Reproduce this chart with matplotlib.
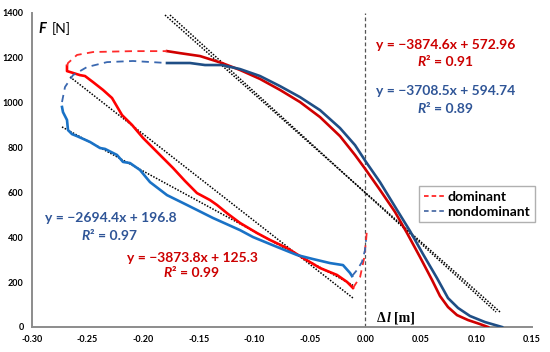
from matplotlib import pyplot as plt
from matplotlib.lines import Line2D

# dominant leg, eccentric (lower) branch
dom_ecc_x = [-0.2685, -0.2685, -0.2658, -0.2568, -0.2523, -0.2451, -0.2361, -0.228, -0.219, -0.21,
             -0.2001, -0.1848, -0.1731, -0.1623, -0.1515, -0.1398, -0.1335, -0.1236, -0.1128, -0.0975,
             -0.0858, -0.0705, -0.0561, -0.0408, -0.0255, -0.0165, -0.0111]
dom_ecc_f = [1164, 1141, 1137, 1123, 1119, 1092, 1057, 1021, 945, 901,
             843, 767, 709, 651, 597, 566, 544, 504, 464, 419,
             388, 352, 308, 263, 232, 201, 174]
# dominant, concentric (upper) branch
dom_con_x = [-0.1785, -0.1668, -0.1488, -0.129, -0.1128, -0.0948, -0.0768, -0.0588, -0.0408, -0.0228,
             -0.0093, 0.0006, 0.0132, 0.0267, 0.0375, 0.0492, 0.06, 0.0672, 0.0744, 0.0825,
             0.0924, 0.1032, 0.1104]
dom_con_f = [1230, 1221, 1208, 1177, 1146, 1106, 1057, 1003, 936, 851,
             767, 700, 611, 513, 419, 312, 210, 138, 89, 53,
             31, 13, 0]
# dominant, transitions (dashed)
dom_top_x = [-0.2685, -0.2676, -0.2595, -0.245, -0.209, -0.1785]
dom_top_f = [1164, 1177, 1213, 1226, 1230, 1230]
dom_bot_x = [-0.0111, -0.0047, -0.0011, 0.0007, 0.0016]
dom_bot_f = [174, 223, 307, 388, 441]

# nondominant leg
non_ecc_x = [-0.273, -0.2721, -0.2685, -0.2676, -0.264, -0.2595, -0.2478, -0.2388, -0.2343, -0.2235,
             -0.2181, -0.2118, -0.2028, -0.1938, -0.1785, -0.1605, -0.1371, -0.1128, -0.1011, -0.0795,
             -0.0615, -0.0471, -0.0318, -0.0201, -0.0138, -0.012]
non_ecc_f = [981, 958, 923, 878, 860, 851, 825, 798, 794, 767,
             736, 731, 700, 646, 588, 544, 486, 432, 401, 357,
             321, 303, 285, 276, 241, 227]
non_con_x = [-0.1785, -0.1578, -0.1443, -0.129, -0.1128, -0.0948, -0.0768, -0.0588, -0.0408, -0.0228,
             -0.0093, 0.0006, 0.0132, 0.0285, 0.0402, 0.0519, 0.0645, 0.0744, 0.0834, 0.0942,
             0.1077, 0.123]
non_con_f = [1177, 1177, 1168, 1168, 1150, 1119, 1074, 1025, 967, 887,
             811, 736, 646, 522, 428, 325, 218, 129, 85, 49,
             22, 0]
non_top_x = [-0.273, -0.2703, -0.2631, -0.2505, -0.2325, -0.2091, -0.1785]
non_top_f = [1003, 1070, 1123, 1159, 1181, 1186, 1177]
non_bot_x = [-0.012, -0.0075, -0.003, -0.0003, 0.0006]
non_bot_f = [227, 254, 290, 343, 388]

# linear trend lines (end points)
trend_dom_ecc = ([-0.2658, -0.0111], [1115, 129])
trend_non_ecc = ([-0.273, -0.0111], [892, 186])
trend_dom_con = ([-0.1803, 0.1212], [1391, 67])
trend_non_con = ([-0.1758, 0.1176], [1391, 67])

eq_dom_con = "y = \u22123874.6x + 572.96"
eq_non_con = "y = \u22123708.5x + 594.74"
eq_non_ecc = "y = \u22122694.4x + 196.8"
eq_dom_ecc = "y = \u22123873.8x + 125.3"
r2 = ["0.91", "0.89", "0.97", "0.99"]

RED_TXT = "#cc0000"
BLUE_TXT = "#2f5597"

plt.rcParams['font.family'] = ['Lato', 'DejaVu Sans']
fig = plt.figure(figsize=(5.5, 3.52), dpi=100)
ax = fig.add_axes([32/550, 25/352, 500/550, 314/352])

# trends
for (tx, tf) in [trend_dom_ecc, trend_non_ecc, trend_dom_con, trend_non_con]:
    ax.plot(tx, tf, ls=(0, (1, 1)), color="black", lw=1.1, zorder=3)

# curves
ax.plot(dom_ecc_x, dom_ecc_f, color="#ff0000", lw=1.9, zorder=4)
ax.plot(dom_con_x, dom_con_f, color="#d00000", lw=1.9, zorder=4)
ax.plot(dom_top_x, dom_top_f, color="#ff2a2a", lw=1.3, ls=(0, (4, 3)), zorder=4)
ax.plot(dom_bot_x, dom_bot_f, color="#ff2a2a", lw=1.3, ls=(0, (4, 3)), zorder=4)
ax.plot(non_ecc_x, non_ecc_f, color="#1a72c6", lw=1.9, zorder=4)
ax.plot(non_con_x, non_con_f, color="#1f4e85", lw=1.9, zorder=4)
ax.plot(non_top_x, non_top_f, color="#3a68b0", lw=1.3, ls=(0, (4, 3)), zorder=4)
ax.plot(non_bot_x, non_bot_f, color="#3a68b0", lw=1.3, ls=(0, (4, 3)), zorder=4)

ax.axvline(0, color="#555555", lw=0.9, ls=(0, (3, 2)), zorder=2)

ax.set_xlim(-0.30, 0.15)
ax.set_ylim(0, 1400)
ax.set_xticks([-0.30, -0.25, -0.20, -0.15, -0.10, -0.05, 0.00, 0.05, 0.10, 0.15])
ax.set_xticklabels([f"{v:.2f}" for v in ax.get_xticks()])
ax.set_yticks(range(0, 1401, 200))
ax.tick_params(length=0, labelsize=6.5, pad=6)
for lab in ax.get_xticklabels() + ax.get_yticklabels():
    lab.set_fontweight("bold")
ax.spines[["right", "top"]].set_visible(False)
for s in ["left", "bottom"]:
    ax.spines[s].set_color("#8c8c8c")
    ax.spines[s].set_linewidth(1.4)

# axis titles
ax.text(-0.2945, 1330, "F", fontsize=10.5, fontweight="bold", fontstyle="italic", ha="left", va="center")
ax.text(-0.2825, 1330, "[N]", fontsize=10, ha="left", va="center")
serif = dict(fontsize=10, fontweight="bold", family="Liberation Serif", ha="left", va="center")
ax.text(0.0105, 40, "\u0394", **serif)
ax.text(0.0188, 40, "l", fontstyle="italic", **serif)
ax.text(0.0262, 40, "[m]", **serif)

# equations
eq_kw = dict(fontsize=10, fontweight="bold", va="center")
def r2_text(x, y, val, color):
    ax.text(x, y, "R", fontstyle="italic", ha="right", color=color, **eq_kw)
    ax.text(x, y, "\u00b2 = " + val, ha="left", color=color, **eq_kw)

ax.text(0.0095, 1257, eq_dom_con, color=RED_TXT, ha="left", **eq_kw)
r2_text(0.0545, 1181, r2[0], RED_TXT)
ax.text(0.0095, 1052, eq_non_con, color=BLUE_TXT, ha="left", **eq_kw)
r2_text(0.0545, 973, r2[1], BLUE_TXT)
ax.text(-0.288, 486, eq_non_ecc, color=BLUE_TXT, ha="left", **eq_kw)
r2_text(-0.248, 405, r2[2], BLUE_TXT)
ax.text(-0.2145, 308, eq_dom_ecc, color=RED_TXT, ha="left", **eq_kw)
r2_text(-0.174, 241, r2[3], RED_TXT)

handles = [Line2D([], [], color="#ff0000", lw=1.1, ls=(0, (3, 2))),
           Line2D([], [], color="#2f5597", lw=1.1, ls=(0, (3, 2)))]
leg = ax.legend(handles, ["dominant", "nondominant"], loc="upper left",
                bbox_to_anchor=(412/550, (352-179)/352), bbox_transform=fig.transFigure,
                prop=dict(family="Lato", weight="bold", size=10), handlelength=1.6,
                handletextpad=0.1, borderpad=0.35, labelspacing=0.2,
                fancybox=False, framealpha=1, edgecolor="#b0b0b0")
leg.get_frame().set_linewidth(1.0)

fig.savefig("out.png", dpi=100)
